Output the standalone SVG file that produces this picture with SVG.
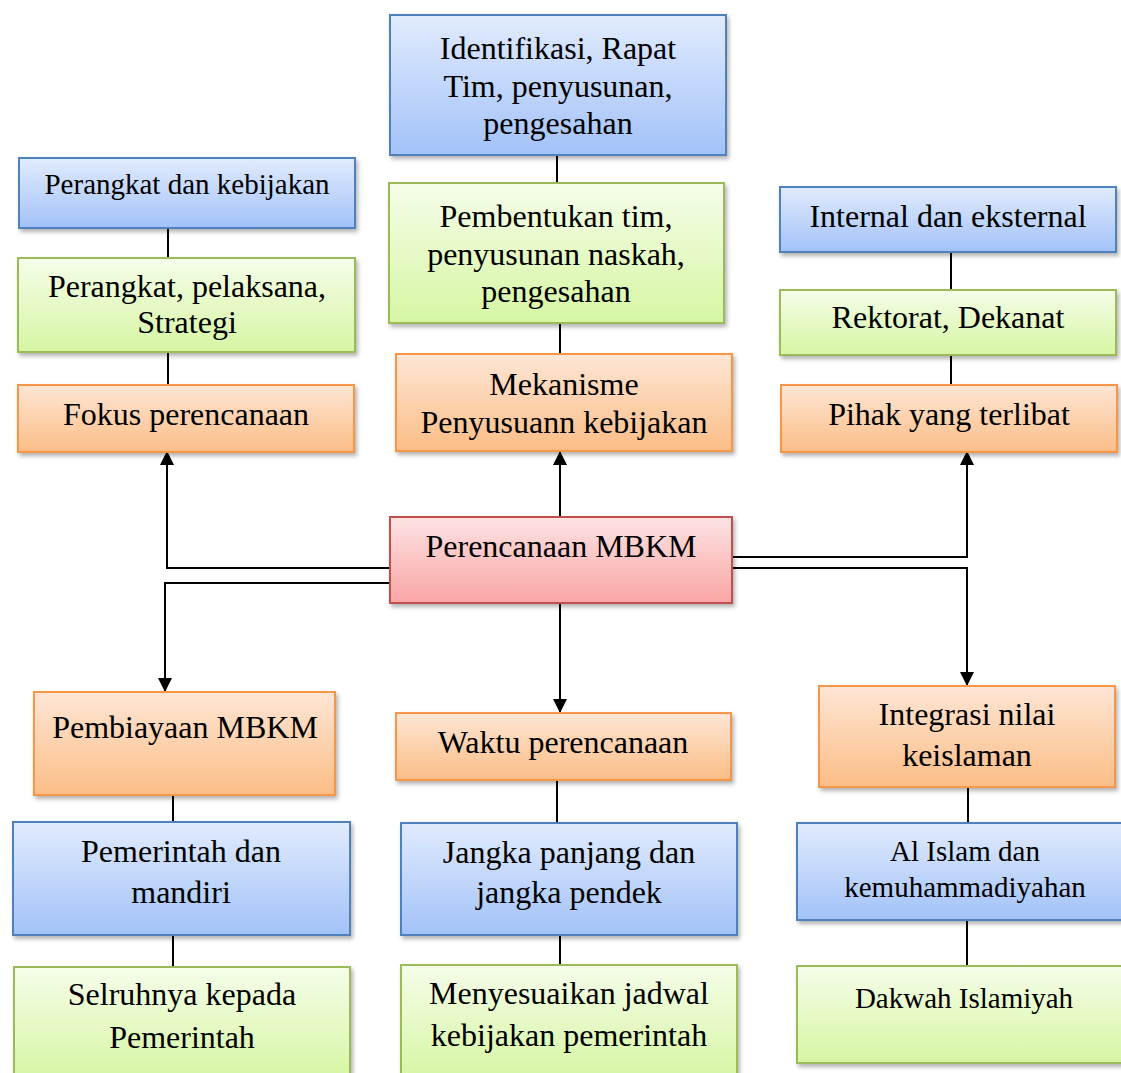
<svg xmlns="http://www.w3.org/2000/svg" width="1121" height="1073" viewBox="0 0 1121 1073">
<defs>
<linearGradient id="gBlue" x1="0" y1="0" x2="0" y2="1"><stop offset="0" stop-color="#e1ebfd"/><stop offset="1" stop-color="#a2c2f8"/></linearGradient>
<linearGradient id="gGreen" x1="0" y1="0" x2="0" y2="1"><stop offset="0" stop-color="#f5fde9"/><stop offset="1" stop-color="#d6f6a3"/></linearGradient>
<linearGradient id="gOrange" x1="0" y1="0" x2="0" y2="1"><stop offset="0" stop-color="#fee6d5"/><stop offset="1" stop-color="#fbbd86"/></linearGradient>
<linearGradient id="gRed" x1="0" y1="0" x2="0" y2="1"><stop offset="0" stop-color="#fde3e3"/><stop offset="1" stop-color="#f8a5a4"/></linearGradient>
<filter id="sh" x="-5%" y="-10%" width="112%" height="130%"><feDropShadow dx="2" dy="3" stdDeviation="2" flood-color="#000" flood-opacity="0.3"/></filter>
<marker id="arr" markerUnits="userSpaceOnUse" markerWidth="14" markerHeight="16" refX="13" refY="7" orient="auto"><path d="M0,0 L14,7 L0,14 Z" fill="#000"/></marker>
</defs>
<style>
.blue{fill:url(#gBlue);stroke:#4f81bd;stroke-width:2;filter:url(#sh)}
.green{fill:url(#gGreen);stroke:#9bbb59;stroke-width:2;filter:url(#sh)}
.orange{fill:url(#gOrange);stroke:#f79646;stroke-width:2;filter:url(#sh)}
.red{fill:url(#gRed);stroke:#c0504d;stroke-width:2;filter:url(#sh)}
text{font-family:"Liberation Serif","Times New Roman",serif;font-size:32px;fill:#000;text-anchor:middle}
.s{font-size:29px}
.ln{stroke:#000;stroke-width:2;fill:none}
.ar{stroke:#000;stroke-width:2;fill:none;marker-end:url(#arr)}
</style>
<rect width="1121" height="1073" fill="#fff"/>
<g id="connectors">
<line class="ln" x1="557" y1="155" x2="557" y2="183"/>
<line class="ln" x1="560" y1="323" x2="560" y2="354"/>
<line class="ln" x1="168" y1="228" x2="168" y2="258"/>
<line class="ln" x1="168" y1="352" x2="168" y2="385"/>
<line class="ln" x1="951" y1="252" x2="951" y2="290"/>
<line class="ln" x1="951" y1="355" x2="951" y2="385"/>
<line class="ar" x1="560" y1="517" x2="560" y2="452"/>
<line class="ar" x1="560" y1="603" x2="560" y2="712"/>
<polyline class="ar" points="390,568 167,568 167,452"/>
<polyline class="ar" points="390,583 165,583 165,691"/>
<polyline class="ar" points="732,557 967,557 967,452"/>
<polyline class="ar" points="732,568 967,568 967,685"/>
<line class="ln" x1="173" y1="795" x2="173" y2="822"/>
<line class="ln" x1="173" y1="935" x2="173" y2="966"/>
<line class="ln" x1="557" y1="780" x2="557" y2="823"/>
<line class="ln" x1="560" y1="935" x2="560" y2="965"/>
<line class="ln" x1="968" y1="787" x2="968" y2="822"/>
<line class="ln" x1="967" y1="920" x2="967" y2="966"/>
</g>
<g id="n-identifikasi"><rect class="blue" x="390" y="15" width="336" height="140"/>
<text x="558" y="59">Identifikasi, Rapat</text><text x="558" y="97">Tim, penyusunan,</text><text x="558" y="134">pengesahan</text></g>
<g id="n-pembentukan"><rect class="green" x="389" y="183" width="335" height="140"/>
<text x="556" y="227">Pembentukan tim,</text><text x="556" y="265">penyusunan naskah,</text><text x="556" y="302">pengesahan</text></g>
<g id="n-mekanisme"><rect class="orange" x="396" y="354" width="336" height="97"/>
<text x="564" y="395">Mekanisme</text><text x="564" y="433">Penyusuann kebijakan</text></g>
<g id="n-perangkat-kebijakan"><rect class="blue" x="19" y="158" width="336" height="70"/>
<text class="s" x="187" y="194">Perangkat dan kebijakan</text></g>
<g id="n-perangkat-pelaksana"><rect class="green" x="18" y="258" width="337" height="94"/>
<text x="187" y="297">Perangkat, pelaksana,</text><text x="187" y="333">Strategi</text></g>
<g id="n-fokus"><rect class="orange" x="18" y="385" width="336" height="67"/>
<text x="186" y="425">Fokus perencanaan</text></g>
<g id="n-internal"><rect class="blue" x="780" y="187" width="336" height="65"/>
<text x="948" y="227">Internal dan eksternal</text></g>
<g id="n-rektorat"><rect class="green" x="780" y="290" width="336" height="65"/>
<text x="948" y="328">Rektorat, Dekanat</text></g>
<g id="n-pihak"><rect class="orange" x="781" y="385" width="336" height="67"/>
<text x="949" y="425">Pihak yang terlibat</text></g>
<g id="n-perencanaan"><rect class="red" x="390" y="517" width="342" height="86"/>
<text x="561" y="557">Perencanaan MBKM</text></g>
<g id="n-pembiayaan"><rect class="orange" x="34" y="692" width="301" height="103"/>
<text x="185" y="738">Pembiayaan MBKM</text></g>
<g id="n-waktu"><rect class="orange" x="396" y="713" width="335" height="67"/>
<text x="563" y="753">Waktu perencanaan</text></g>
<g id="n-integrasi"><rect class="orange" x="819" y="686" width="296" height="101"/>
<text x="967" y="725">Integrasi nilai</text><text x="967" y="766">keislaman</text></g>
<g id="n-pemerintah-mandiri"><rect class="blue" x="13" y="822" width="337" height="113"/>
<text x="181" y="862">Pemerintah dan</text><text x="181" y="903">mandiri</text></g>
<g id="n-jangka"><rect class="blue" x="401" y="823" width="336" height="112"/>
<text x="569" y="863">Jangka panjang dan</text><text x="569" y="903">jangka pendek</text></g>
<g id="n-alislam"><rect class="blue" x="797" y="823" width="330" height="97"/>
<text class="s" x="965" y="861">Al Islam dan</text><text class="s" x="965" y="897">kemuhammadiyahan</text></g>
<g id="n-selruhnya"><rect class="green" x="14" y="967" width="336" height="112"/>
<text x="182" y="1005">Selruhnya kepada</text><text x="182" y="1048">Pemerintah</text></g>
<g id="n-menyesuaikan"><rect class="green" x="401" y="965" width="336" height="114"/>
<text x="569" y="1004">Menyesuaikan jadwal</text><text x="569" y="1046">kebijakan pemerintah</text></g>
<g id="n-dakwah"><rect class="green" x="797" y="966" width="330" height="97"/>
<text class="s" x="964" y="1008">Dakwah Islamiyah</text></g>
</svg>
